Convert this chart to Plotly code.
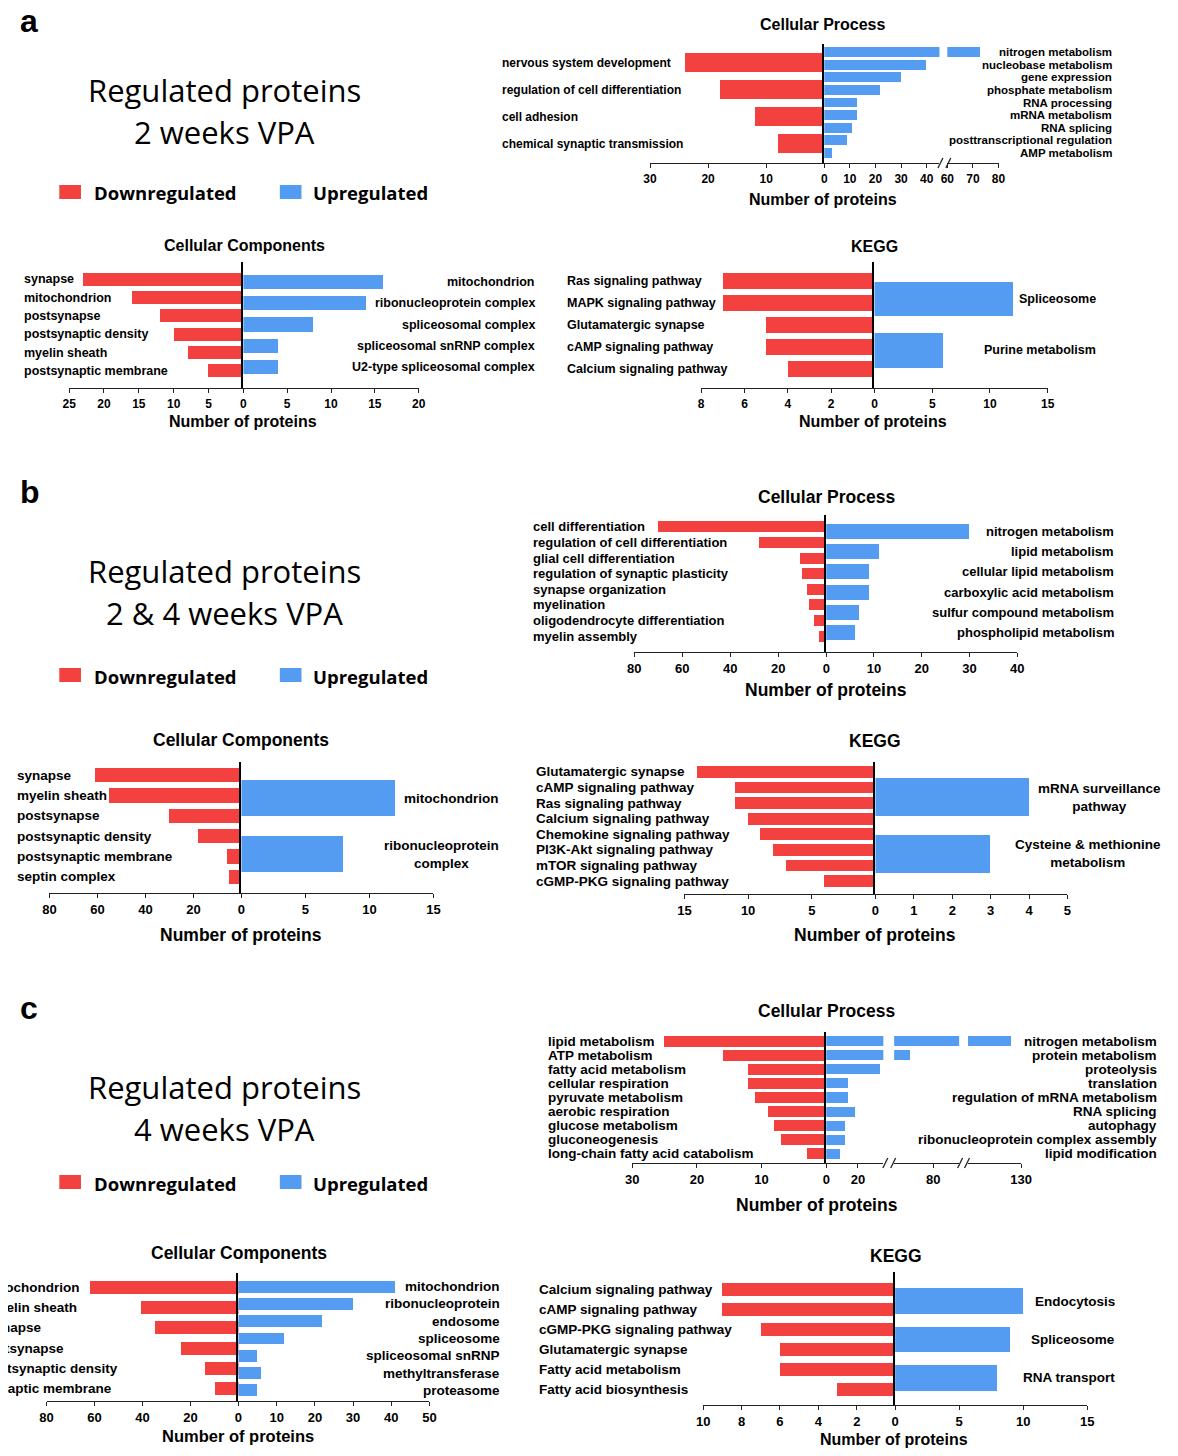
import plotly.graph_objects as go

# ---------------- DATA ----------------
panel_letters = ["a", "b", "c"]
header_line1 = "Regulated proteins"
period_titles = ["2 weeks VPA", "2 & 4 weeks VPA", "4 weeks VPA"]
legend_names = ["Downregulated", "Upregulated"]
x_title = "Number of proteins"

a_cp_down_labels = ["nervous system development", "regulation of cell differentiation", "cell adhesion",
                    "chemical synaptic transmission"]
a_cp_down_values = [24, 18, 12, 8]
a_cp_up_labels = ["nitrogen metabolism", "nucleobase metabolism", "gene expression", "phosphate metabolism",
                  "RNA processing", "mRNA metabolism", "RNA splicing", "posttranscriptional regulation",
                  "AMP metabolism"]
a_cp_up_values = [73, 40, 30, 22, 13, 13, 11, 9, 3]
a_cp_down_ticks = [0, 10, 20, 30]
a_cp_up_ticks = [10, 20, 30, 40, 60, 70, 80]

a_cc_down_labels = ["synapse", "mitochondrion", "postsynapse", "postsynaptic density", "myelin sheath",
                    "postsynaptic membrane"]
a_cc_down_values = [23, 16, 12, 10, 8, 5]
a_cc_up_labels = ["mitochondrion", "ribonucleoprotein complex", "spliceosomal complex",
                  "spliceosomal snRNP complex", "U2-type spliceosomal complex"]
a_cc_up_values = [16, 14, 8, 4, 4]
a_cc_down_ticks = [0, 5, 10, 15, 20, 25]
a_cc_up_ticks = [5, 10, 15, 20]

a_kegg_down_labels = ["Ras signaling pathway", "MAPK signaling pathway", "Glutamatergic synapse",
                      "cAMP signaling pathway", "Calcium signaling pathway"]
a_kegg_down_values = [7, 7, 5, 5, 4]
a_kegg_up_labels = ["Spliceosome", "Purine metabolism"]
a_kegg_up_values = [12, 6]
a_kegg_down_ticks = [0, 2, 4, 6, 8]
a_kegg_up_ticks = [5, 10, 15]

b_cp_down_labels = ["cell differentiation", "regulation of cell differentiation", "glial cell differentiation",
                    "regulation of synaptic plasticity", "synapse organization", "myelination",
                    "oligodendrocyte differentiation", "myelin assembly"]
b_cp_down_values = [70, 28, 11, 10, 8, 7, 5, 3]
b_cp_up_labels = ["nitrogen metabolism", "lipid metabolism", "cellular lipid metabolism",
                  "carboxylic acid metabolism", "sulfur compound metabolism", "phospholipid metabolism"]
b_cp_up_values = [30, 11, 9, 9, 7, 6]
b_cp_down_ticks = [0, 20, 40, 60, 80]
b_cp_up_ticks = [10, 20, 30, 40]

b_cc_down_labels = ["synapse", "myelin sheath", "postsynapse", "postsynaptic density", "postsynaptic membrane",
                    "septin complex"]
b_cc_down_values = [61, 55, 30, 18, 6, 5]
b_cc_up_labels = ["mitochondrion", "ribonucleoprotein complex"]
b_cc_up_values = [12, 8]
b_cc_down_ticks = [0, 20, 40, 60, 80]
b_cc_up_ticks = [5, 10, 15]

b_kegg_down_labels = ["Glutamatergic synapse", "cAMP signaling pathway", "Ras signaling pathway",
                      "Calcium signaling pathway", "Chemokine signaling pathway", "PI3K-Akt signaling pathway",
                      "mTOR signaling pathway", "cGMP-PKG signaling pathway"]
b_kegg_down_values = [14, 11, 11, 10, 9, 8, 7, 4]
b_kegg_up_labels = ["mRNA surveillance pathway", "Cysteine & methionine metabolism"]
b_kegg_up_values = [4, 3]
b_kegg_down_ticks = [0, 5, 10, 15]
b_kegg_up_ticks = [1, 2, 3, 4, 5]

c_cp_down_labels = ["lipid metabolism", "ATP metabolism", "fatty acid metabolism", "cellular respiration",
                    "pyruvate metabolism", "aerobic respiration", "glucose metabolism", "gluconeogenesis",
                    "long-chain fatty acid catabolism"]
c_cp_down_values = [25, 16, 12, 12, 11, 9, 8, 7, 3]
c_cp_up_labels = ["nitrogen metabolism", "protein metabolism", "proteolysis", "translation",
                  "regulation of mRNA metabolism", "RNA splicing", "autophagy",
                  "ribonucleoprotein complex assembly", "lipid modification"]
c_cp_up_values = [124, 62, 34, 14, 14, 18, 12, 12, 9]
c_cp_down_ticks = [0, 10, 20, 30]
c_cp_up_ticks = [20, 80, 130]

c_cc_down_labels = ["mitochondrion", "myelin sheath", "synapse", "postsynapse", "postsynaptic density",
                    "postsynaptic membrane"]
c_cc_down_values = [62, 41, 35, 24, 14, 10]
c_cc_up_labels = ["mitochondrion", "ribonucleoprotein", "endosome", "spliceosome", "spliceosomal snRNP",
                  "methyltransferase", "proteasome"]
c_cc_up_values = [41, 30, 22, 12, 5, 6, 5]
c_cc_down_ticks = [0, 20, 40, 60, 80]
c_cc_up_ticks = [10, 20, 30, 40, 50]

c_kegg_down_labels = ["Calcium signaling pathway", "cAMP signaling pathway", "cGMP-PKG signaling pathway",
                      "Glutamatergic synapse", "Fatty acid metabolism", "Fatty acid biosynthesis"]
c_kegg_down_values = [9, 9, 7, 6, 6, 3]
c_kegg_up_labels = ["Endocytosis", "Spliceosome", "RNA transport"]
c_kegg_up_values = [10, 9, 8]
c_kegg_down_ticks = [0, 2, 4, 6, 8, 10]
c_kegg_up_ticks = [5, 10, 15]

# ---------------- STYLE / LAYOUT ----------------
PAGE_W, PAGE_H = 1178, 1456
BODY_MARGIN = 8                     # default page margin around the plot div
W, H = PAGE_W - 2 * BODY_MARGIN, PAGE_H - 2 * BODY_MARGIN
RED = "#F2413F"
BLUE = "#539CF2"
LF = "Liberation Sans, Arial, sans-serif"
HF = "Open Sans, sans-serif"


def px(x):
    """page pixel x -> paper fraction"""
    return (x - BODY_MARGIN) / W


def py(y):
    """page pixel y (from top) -> paper fraction"""
    return 1 - (y - BODY_MARGIN) / H


fig = go.Figure()
layout_axes = {}
annotations = []
shapes = []
counter = [0]


def names(k):
    if k == 1:
        return "x", "y", "xaxis", "yaxis"
    return f"x{k}", f"y{k}", f"xaxis{k}", f"yaxis{k}"


def side(labels, values, ticks, color, segs, ytop, ybot, span, width, vline,
         label_x, label_anchor, label_size, tick_size, wrap=False):
    n = len(labels)
    p = (span[1] - span[0]) / n
    r_top = -0.5 - (span[0] - ytop) / p
    r_bot = n - 0.5 + (ybot - span[1]) / p
    yname = None
    for (x0, x1, rng) in segs:
        counter[0] += 1
        k = counter[0]
        xn, yn, xl, yl = names(k)
        if yname is None:
            yname = yn
            layout_axes[yl] = dict(
                domain=[py(ybot), py(ytop)], range=[r_bot, r_top], type="category",
                categoryorder="array", categoryarray=labels, anchor=xn,
                showline=vline, linecolor="black", linewidth=1.6, showticklabels=False,
                ticks="", showgrid=False, zeroline=False, fixedrange=True)
        lo, hi = min(rng), max(rng)
        tv = [t for t in ticks if lo <= t <= hi]
        layout_axes[xl] = dict(
            domain=[px(x0), px(x1)], range=rng, anchor=yname, showline=True,
            linecolor="#222", linewidth=1.4, ticks="outside", ticklen=4, tickwidth=1.3,
            tickcolor="#222", tickvals=tv, ticktext=[str(t) for t in tv],
            tickfont=dict(family=LF, size=tick_size, color="black", weight="bold"),
            showgrid=False, zeroline=False, fixedrange=True)
        fig.add_trace(go.Bar(
            x=values, y=labels, orientation="h", xaxis=xn, yaxis=yname,
            marker=dict(color=color, line=dict(width=0)), width=width,
            hoverinfo="skip", showlegend=False))
    xs = label_x if isinstance(label_x, (list, tuple)) else [label_x] * n
    for lab, lx in zip(labels, xs):
        txt = lab
        if wrap and " " in lab:
            a, b = lab.rsplit(" ", 1)
            txt = a + "<br>" + b
        annotations.append(dict(
            text=txt, x=px(lx), xref="paper", xanchor=label_anchor, y=lab, yref=yname,
            yanchor="middle", showarrow=False, align="center",
            font=dict(family=LF, size=label_size, color="black", weight="bold")))


def title(text, x, y, size):
    annotations.append(dict(text=text, x=px(x), y=py(y), xref="paper", yref="paper",
                            xanchor="center", yanchor="middle", showarrow=False,
                            font=dict(family=LF, size=size, color="black", weight="bold")))


def brk(x, y):
    shapes.append(dict(type="line", xref="paper", yref="paper",
                       x0=px(x - 2.5), y0=py(y + 5), x1=px(x + 2.5), y1=py(y - 5),
                       line=dict(color="#222", width=1.3)))


def panel(down, up, geo):
    dl, dv, dt = down
    ul, uv, ut = up
    side(dl, dv, dt, RED, geo["lsegs"], geo["ytop"], geo["ybot"], geo["lspan"], geo["lw"], False,
         geo["lx"], "left", geo["ls"], geo["ts"])
    side(ul, uv, ut, BLUE, geo["rsegs"], geo["ytop"], geo["ybot"], geo["rspan"], geo["rw"], True,
         geo["rx"], "right", geo["rs"], geo["ts"], wrap=geo.get("wrap", False))
    title(geo["title"], geo["tx"], geo["ty"], geo["tsz"])
    title(x_title, geo["xtx"], geo["xty"], geo.get("xtsz", geo["tsz"]))
    for bx in geo.get("breaks", []):
        brk(bx, geo["ybot"])


# ---- panel a ----
panel((a_cp_down_labels, a_cp_down_values, a_cp_down_ticks),
      (a_cp_up_labels, a_cp_up_values, a_cp_up_ticks),
      dict(lsegs=[(653, 830, [30, 0])], rsegs=[(830, 947, [0, 45]), (955, 1007, [60, 80])],
           ytop=44, ybot=163, lspan=(49, 157), rspan=(46, 159), lw=0.68, rw=0.78,
           lx=501, rx=1124, ls=12, rs=11.5, ts=12, title="Cellular Process", tx=829, ty=25,
           tsz=16, xtx=829, xty=200, breaks=[948, 956]))
panel((a_cc_down_labels, a_cc_down_values, a_cc_down_ticks),
      (a_cc_up_labels, a_cc_up_values, a_cc_up_ticks),
      dict(lsegs=[(63, 240, [25, 0])], rsegs=[(240, 418, [0, 20])],
           ytop=262, ybot=388, lspan=(270, 380), rspan=(271, 378), lw=0.72, rw=0.66,
           lx=15, rx=538, ls=12.5, rs=12.5, ts=12, title="Cellular Components", tx=241, ty=246,
           tsz=16, xtx=240, xty=422))
panel((a_kegg_down_labels, a_kegg_down_values, a_kegg_down_ticks),
      (a_kegg_up_labels, a_kegg_up_values, a_kegg_up_ticks),
      dict(lsegs=[(705, 881, [8, 0])], rsegs=[(881, 1057, [0, 15])],
           ytop=262, ybot=388, lspan=(270, 380), rspan=(273, 376), lw=0.72, rw=0.67,
           lx=567, rx=1108, ls=12.5, rs=12.5, ts=12, title="KEGG", tx=881, ty=247,
           tsz=16, xtx=880, xty=422))

# ---- panel b ----
panel((b_cp_down_labels, b_cp_down_values, b_cp_down_ticks),
      (b_cp_up_labels, b_cp_up_values, b_cp_up_ticks),
      dict(lsegs=[(637, 832, [80, 0])], rsegs=[(832, 1026, [0, 40])],
           ytop=515, ybot=652, lspan=(519, 644), rspan=(521, 643), lw=0.7, rw=0.73,
           lx=532, rx=1126, ls=13, rs=13, ts=13, title="Cellular Process", tx=832, ty=497,
           tsz=17.5, xtx=832, xty=690))
panel((b_cc_down_labels, b_cc_down_values, b_cc_down_ticks),
      (b_cc_up_labels, b_cc_up_values, b_cc_up_ticks),
      dict(lsegs=[(43, 238, [80, 0])], rsegs=[(238, 433, [0, 15])],
           ytop=762, ybot=893, lspan=(765, 887), rspan=(770, 882), lw=0.7, rw=0.66,
           lx=8, rx=502, ls=13.5, rs=13.5, ts=13, title="Cellular Components", tx=238, ty=740,
           tsz=17.5, xtx=238, xty=935, wrap=True))
panel((b_kegg_down_labels, b_kegg_down_values, b_kegg_down_ticks),
      (b_kegg_up_labels, b_kegg_up_values, b_kegg_up_ticks),
      dict(lsegs=[(688, 882, [15, 0])], rsegs=[(882, 1077, [0, 5])],
           ytop=762, ybot=894, lspan=(764, 889), rspan=(769, 882), lw=0.75, rw=0.67,
           lx=535, rx=1174, ls=13.5, rs=13.5, ts=13, title="KEGG", tx=882, ty=741,
           tsz=17.5, xtx=882, xty=935, wrap=True))

# ---- panel c ----
panel((c_cp_down_labels, c_cp_down_values, c_cp_down_ticks),
      (c_cp_up_labels, c_cp_up_values, c_cp_up_ticks),
      dict(lsegs=[(635, 832, [30, 0])],
           rsegs=[(832, 890, [0, 36]), (901, 967, [50, 100]), (976, 1030, [100, 130])],
           ytop=1032, ybot=1163, lspan=(1034, 1161), rspan=(1034, 1161), lw=0.78, rw=0.72,
           lx=547, rx=1170, ls=13.5, rs=13.5, ts=13, title="Cellular Process", tx=832, ty=1011,
           tsz=17.5, xtx=823, xty=1205, breaks=[892, 900, 968, 975]))
panel((c_cc_down_labels, c_cc_down_values, c_cc_down_ticks),
      (c_cc_up_labels, c_cc_up_values, c_cc_up_ticks),
      dict(lsegs=[(40, 235, [80, 0])], rsegs=[(235, 429, [0, 50])],
           ytop=1273, ybot=1401, lspan=(1277, 1399), rspan=(1278, 1399), lw=0.65, rw=0.68,
           lx=[-25, -22, -22, -29, -27, -54], rx=503, ls=13.5, rs=13.5, ts=13,
           title="Cellular Components", tx=236, ty=1253, tsz=17.5, xtx=235, xty=1436, xtsz=16.5))
panel((c_kegg_down_labels, c_kegg_down_values, c_kegg_down_ticks),
      (c_kegg_up_labels, c_kegg_up_values, c_kegg_up_ticks),
      dict(lsegs=[(707, 902, [10, 0])], rsegs=[(902, 1097, [0, 15])],
           ytop=1272, ybot=1405, lspan=(1279, 1400), rspan=(1282, 1397), lw=0.65, rw=0.67,
           lx=538, rx=1127, ls=13.5, rs=13.5, ts=13, title="KEGG", tx=903, ty=1256,
           tsz=17.5, xtx=901, xty=1439, xtsz=16))

# ---- left headers ----
header_geo = [
    dict(ly=21, h1=90, h2=132, leg=192),
    dict(ly=492, h1=571, h2=613, leg=675),
    dict(ly=1008, h1=1087, h2=1129, leg=1182),
]
for letter, period, g in zip(panel_letters, period_titles, header_geo):
    annotations.append(dict(text=letter, x=px(11), y=py(g["ly"]), xref="paper", yref="paper",
                            xanchor="left", yanchor="middle", showarrow=False,
                            font=dict(family=LF, size=32, color="black", weight="bold")))
    for txt, yy in ((header_line1, g["h1"]), (period, g["h2"])):
        annotations.append(dict(text=txt, x=px(221), y=py(yy), xref="paper", yref="paper",
                                xanchor="center", yanchor="middle", showarrow=False,
                                font=dict(family=HF, size=31, color="black")))
    for name, col, sx, tx in ((legend_names[0], RED, 53, 86), (legend_names[1], BLUE, 277, 309)):
        shapes.append(dict(type="rect", xref="paper", yref="paper", x0=px(sx), x1=px(sx + 22),
                           y0=py(g["leg"] + 7), y1=py(g["leg"] - 7), fillcolor=col,
                           line=dict(width=0)))
        annotations.append(dict(text=name, x=px(tx), y=py(g["leg"] + 1), xref="paper", yref="paper",
                                xanchor="left", yanchor="middle", showarrow=False,
                                font=dict(family=HF, size=18.5, color="black", weight="bold")))

fig.update_layout(
    width=W, height=H, margin=dict(l=0, r=0, t=0, b=0),
    paper_bgcolor="white", plot_bgcolor="white", showlegend=False,
    bargap=0, annotations=annotations, shapes=shapes, **layout_axes)

fig.write_html("out.html", config={"responsive": False, "displayModeBar": False})
